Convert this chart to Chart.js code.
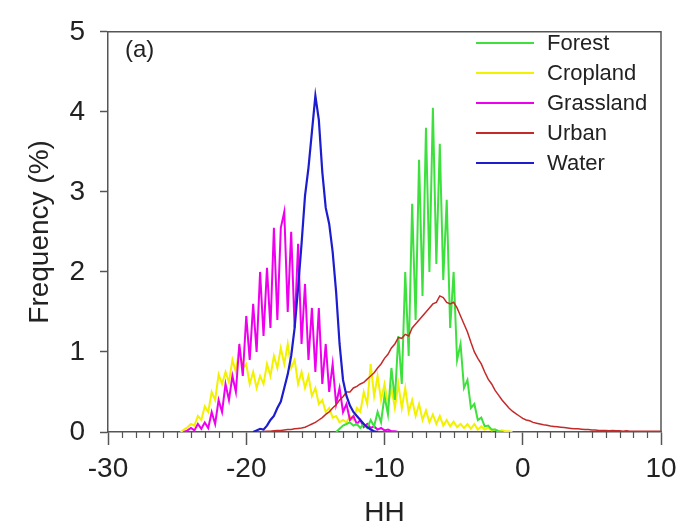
<!DOCTYPE html>
<html>
<head>
<meta charset="utf-8">
<script src="https://cdn.jsdelivr.net/npm/chart.js@4/dist/chart.umd.min.js"></script>
<style>
  html, body { margin: 0; padding: 0; background: #ffffff; }
  canvas { display: block; }
</style>
</head>
<body>
<canvas id="c" width="687" height="530"></canvas>
<script>
// ---- Data (HH backscatter histogram, bin step 0.25 dB) ----
const binStep = 0.25;
const seriesNames = ["Forest", "Cropland", "Grassland", "Urban", "Water"];
const xTickLabels = [-30, -20, -10, 0, 10];
const yTickLabels = [0, 1, 2, 3, 4, 5];

const forestStart = -13.5;
const forestValues = [0, 0.04, 0.08, 0.1, 0.12, 0.08, 0.1, 0.05, 0.1, 0.05, 0.15, 0.07,
  0.25, 0.12, 0.45, 0.22, 0.8, 0.4, 1.2, 0.6, 2.0, 0.95, 2.85, 1.4, 3.4, 1.7, 3.8, 2.0,
  4.05, 2.1, 3.6, 1.9, 2.9, 1.3, 2.0, 0.9, 1.1, 0.55, 0.65, 0.3, 0.35, 0.15, 0.18, 0.07,
  0.08, 0.03, 0.03, 0.01, 0];

const croplandStart = -24.75;
const croplandValues = [0, 0.03, 0.06, 0.1, 0.08, 0.2, 0.15, 0.32, 0.25, 0.5, 0.4, 0.72, 0.6, 0.75, 0.62, 0.9,
  0.75, 1.05, 0.8, 0.85, 0.6, 0.75, 0.55, 0.7, 0.6, 0.85, 0.7, 0.95, 0.8, 1.05, 0.85, 1.1,
  0.8, 0.9, 0.6, 0.75, 0.55, 0.7, 0.45, 0.55, 0.35, 0.4, 0.25, 0.3, 0.18, 0.2, 0.12, 0.15,
  0.12, 0.2, 0.15, 0.3, 0.25, 0.5, 0.35, 0.85, 0.45, 0.7, 0.4, 0.6, 0.35, 0.55, 0.3, 0.6,
  0.3, 0.55, 0.25, 0.4, 0.2, 0.35, 0.15, 0.27, 0.12, 0.22, 0.1, 0.2, 0.08, 0.15, 0.07, 0.13,
  0.06, 0.1, 0.05, 0.1, 0.04, 0.1, 0.03, 0.07, 0.03, 0.05, 0.02, 0.03, 0.01, 0.02, 0.01, 0.01, 0];

const grasslandStart = -24.5;
const grasslandValues = [0, 0.02, 0.05, 0.02, 0.1, 0.04, 0.12, 0.05, 0.25, 0.1, 0.4, 0.25, 0.6, 0.4, 0.7, 0.5,
  1.1, 0.7, 1.45, 0.9, 1.6, 1.0, 2.0, 1.2, 2.05, 1.3, 2.55, 1.4, 2.55, 2.75, 1.5, 2.5,
  1.3, 2.35, 1.1, 1.85, 0.9, 1.55, 0.75, 1.55, 0.6, 1.1, 0.5, 0.85, 0.35, 0.55, 0.25, 0.35,
  0.15, 0.2, 0.1, 0.15, 0.06, 0.1, 0.05, 0.07, 0.03, 0.05, 0.02, 0.03, 0.01, 0.01, 0];

const urbanStart = -19;
const urbanValues = [0, 0.005, 0.01, 0.01, 0.015, 0.02, 0.02, 0.025, 0.03, 0.03, 0.04, 0.045, 0.05, 0.06, 0.08, 0.1,
  0.12, 0.15, 0.18, 0.22, 0.25, 0.3, 0.34, 0.4, 0.44, 0.5, 0.5, 0.55, 0.57, 0.6, 0.62, 0.66,
  0.7, 0.74, 0.8, 0.85, 0.92, 0.97, 1.05, 1.1, 1.18, 1.17, 1.22, 1.2, 1.3, 1.35, 1.4, 1.45,
  1.5, 1.55, 1.6, 1.62, 1.7, 1.68, 1.62, 1.6, 1.62, 1.55, 1.45, 1.35, 1.25, 1.12, 1.0, 0.92,
  0.85, 0.75, 0.66, 0.6, 0.52, 0.46, 0.4, 0.35, 0.3, 0.26, 0.23, 0.2, 0.17, 0.15, 0.14, 0.12,
  0.11, 0.1, 0.09, 0.085, 0.075, 0.07, 0.065, 0.06, 0.055, 0.05, 0.045, 0.04, 0.04, 0.035, 0.03, 0.03,
  0.025, 0.025, 0.02, 0.02, 0.02, 0.015, 0.02, 0.015, 0.015, 0.01, 0.015, 0.01, 0.01, 0.01, 0.01, 0.01,
  0.01, 0.01, 0.01, 0.01, 0.01];

const waterStart = -19.5;
const waterValues = [0, 0.02, 0.04, 0.03, 0.08, 0.15, 0.2, 0.3, 0.38, 0.55, 0.72, 0.95, 1.3, 1.8, 2.35, 2.95,
  3.3, 3.75, 4.2, 3.9, 3.25, 2.8, 2.6, 2.25, 1.75, 1.1, 0.65, 0.45, 0.33, 0.25, 0.2, 0.15,
  0.1, 0.06, 0.03, 0.01, 0];

const seriesColors = ["#3ee03e", "#f2f200", "#ee00ee", "#c42a2a", "#1c1cd0"];

function toPoints(start, values) {
  return values.map((v, i) => ({ x: start + i * binStep, y: v }));
}

const seriesData = [
  toPoints(forestStart, forestValues),
  toPoints(croplandStart, croplandValues),
  toPoints(grasslandStart, grasslandValues),
  toPoints(urbanStart, urbanValues),
  toPoints(waterStart, waterValues)
];
const drawOrder = [2, 4, 3, 1, 0];   // lower = drawn on top
const lineWidths = [2, 2, 2, 1.5, 2.2];

const textColor = "#222222";
const axisColor = "#555555";
const FONT = "'Liberation Sans', Arial, sans-serif";

const frameAndDecor = {
  id: "frameAndDecor",
  afterDraw(chart) {
    const ctx = chart.ctx;
    const a = chart.chartArea;
    const xs = chart.scales.x;
    ctx.save();
    // top and right frame
    ctx.strokeStyle = axisColor;
    ctx.lineWidth = 1.5;
    ctx.beginPath();
    ctx.moveTo(a.left, a.top);
    ctx.lineTo(a.right, a.top);
    ctx.lineTo(a.right, a.bottom);
    ctx.stroke();
    // minor x ticks
    ctx.lineWidth = 1.2;
    ctx.beginPath();
    for (let v = xs.min; v <= xs.max; v += 1) {
      if (v % 10 === 0) continue;
      const px = Math.round(xs.getPixelForValue(v)) + 0.5;
      ctx.moveTo(px, a.bottom);
      ctx.lineTo(px, a.bottom + 6);
    }
    ctx.stroke();
    // panel label
    ctx.fillStyle = textColor;
    ctx.font = "24px " + FONT;
    ctx.textBaseline = "middle";
    ctx.textAlign = "left";
    ctx.fillText("(a)", a.left + 17, 50);
    // legend
    ctx.font = "22px " + FONT;
    const lx0 = 476, lx1 = 534, tx = 547, y0 = 43, dy = 30;
    chart.data.datasets.forEach((ds, i) => {
      const y = y0 + i * dy;
      ctx.strokeStyle = ds.borderColor;
      ctx.lineWidth = 2;
      ctx.beginPath();
      ctx.moveTo(lx0, y);
      ctx.lineTo(lx1, y);
      ctx.stroke();
      ctx.fillStyle = textColor;
      ctx.fillText(ds.label, tx, y + 1);
    });
    ctx.restore();
  }
};

new Chart(document.getElementById("c"), {
  type: "line",
  data: {
    datasets: seriesNames.map((name, i) => ({
      label: name,
      data: seriesData[i],
      borderColor: seriesColors[i],
      backgroundColor: seriesColors[i],
      borderWidth: lineWidths[i],
      pointRadius: 0,
      tension: 0,
      fill: false,
      order: drawOrder[i]
    }))
  },
  options: {
    responsive: false,
    animation: false,
    parsing: true,
    layout: { padding: { top: 17, right: 26, left: 0, bottom: 0 } },
    plugins: { legend: { display: false }, tooltip: { enabled: false } },
    scales: {
      x: {
        type: "linear",
        min: -30, max: 10,
        afterFit(scale) { scale.height = 98; },
        afterBuildTicks(scale) { scale.ticks = xTickLabels.map(v => ({ value: v })); },
        ticks: { color: textColor, font: { size: 28, family: FONT }, padding: 7, maxRotation: 0 },
        grid: { drawOnChartArea: false, drawTicks: true, tickLength: 13, tickColor: axisColor, tickWidth: 1.5 },
        border: { display: true, color: axisColor, width: 1.5 },
        title: { display: true, text: "HH", color: textColor, font: { size: 28, family: FONT }, padding: { top: 0, bottom: 0 } }
      },
      y: {
        type: "linear",
        min: 0, max: 5,
        afterFit(scale) { scale.width = 108; },
        afterBuildTicks(scale) { scale.ticks = yTickLabels.map(v => ({ value: v })); },
        ticks: { color: textColor, font: { size: 28, family: FONT }, padding: 15 },
        grid: { drawOnChartArea: false, drawTicks: true, tickLength: 8, tickColor: axisColor, tickWidth: 1.5 },
        border: { display: true, color: axisColor, width: 1.5 },
        title: { display: true, text: "Frequency (%)", color: textColor, font: { size: 28, family: FONT }, padding: { top: 23, bottom: 0 } }
      }
    }
  },
  plugins: [frameAndDecor]
});
</script>
</body>
</html>
